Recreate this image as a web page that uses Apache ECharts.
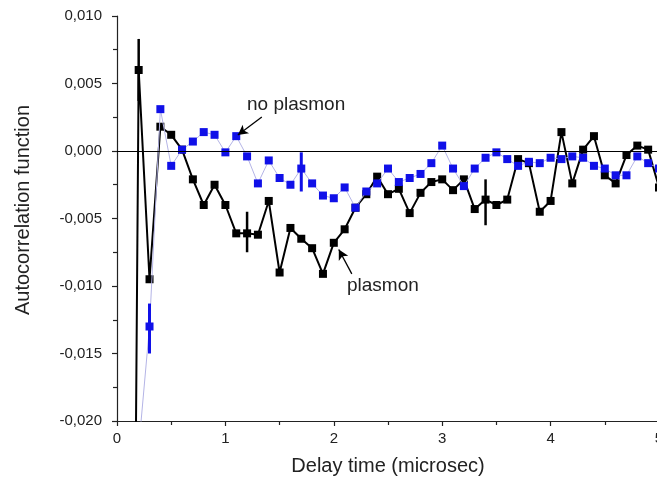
<!DOCTYPE html>
<html>
<head>
<meta charset="utf-8">
<style>
html,body{margin:0;padding:0;background:#fff;}
#chart{width:657px;height:486px;}
</style>
<script src="https://cdn.jsdelivr.net/npm/echarts@6/dist/echarts.min.js"></script>
</head>
<body>
<div id="chart"></div>
<script>
// Delay times (microsec)
const plasmonTimes = [0.1,0.2,0.3,0.4,0.5,0.6,0.7,0.8,0.9,1.0,1.1,1.2,1.3,1.4,1.5,1.6,1.7,1.8,1.9,2.0,2.1,2.2,2.3,2.4,2.5,2.6,2.7,2.8,2.9,3.0,3.1,3.2,3.3,3.4,3.5,3.6,3.7,3.8,3.9,4.0,4.1,4.2,4.3,4.4,4.5,4.6,4.7,4.8,4.9,5.0];
const plasmonValues = [-0.1,0.0060,-0.0095,0.0018,0.0012,0.0001,-0.0021,-0.0040,-0.0025,-0.0040,-0.0061,-0.0061,-0.0062,-0.0037,-0.0090,-0.0057,-0.0065,-0.0072,-0.0091,-0.0068,-0.0058,-0.0042,-0.0032,-0.0019,-0.0032,-0.0028,-0.0046,-0.0031,-0.0023,-0.0021,-0.0029,-0.0021,-0.0043,-0.0036,-0.0040,-0.0036,-0.0006,-0.0009,-0.0045,-0.0037,0.0014,-0.0024,0.0001,0.0011,-0.0018,-0.0024,-0.0003,0.0004,0.0001,-0.0027];

const noPlasmonTimes = [0.2,0.3,0.4,0.5,0.6,0.7,0.8,0.9,1.0,1.1,1.2,1.3,1.4,1.5,1.6,1.7,1.8,1.9,2.0,2.1,2.2,2.3,2.4,2.5,2.6,2.7,2.8,2.9,3.0,3.1,3.2,3.3,3.4,3.5,3.6,3.7,3.8,3.9,4.0,4.1,4.2,4.3,4.4,4.5,4.6,4.7,4.8,4.9,5.0];
const noPlasmonValues = [-0.0220,-0.0130,0.0031,-0.0011,0.0001,0.0007,0.0014,0.0012,-0.0001,0.0011,-0.0004,-0.0024,-0.0007,-0.0020,-0.0025,-0.0013,-0.0024,-0.0033,-0.0035,-0.0027,-0.0042,-0.0030,-0.0024,-0.0013,-0.0023,-0.0020,-0.0017,-0.0009,0.0004,-0.0013,-0.0026,-0.0013,-0.0005,-0.0001,-0.0006,-0.0011,-0.0008,-0.0009,-0.0005,-0.0006,-0.0004,-0.0005,-0.0011,-0.0013,-0.0018,-0.0018,-0.0004,-0.0009,-0.0013];

// Error bars: [time, low, high]
const plasmonErrors = [[0.2,0.0037,0.0083],[1.2,-0.0075,-0.0045],[3.4,-0.0055,-0.0021]];
const noPlasmonErrors = [[0.3,-0.0150,-0.0113],[1.7,-0.0030,-0.0001]];

// Axis ticks
const xTicks = [0,1,2,3,4,5];
const yTicks = [-0.020,-0.015,-0.010,-0.005,0.000,0.005,0.010];

// Annotation arrows (data coords): [tail, head]
const noPlasmonArrow = [[1.336,0.00252],[1.115,0.00119]];
const plasmonArrow = [[2.166,-0.0091],[2.046,-0.0073]];

const zip = (a,b) => a.map((v,i)=>[v,b[i]]);

function errRender(color, width){
  return function(params, api){
    const p1 = api.coord([api.value(0), api.value(1)]);
    const p2 = api.coord([api.value(0), api.value(2)]);
    return {type:'line', shape:{x1:p1[0],y1:p1[1],x2:p2[0],y2:p2[1]}, style:{stroke:color, lineWidth:width}};
  };
}

const font = 'Liberation Sans, Arial, sans-serif';
const chart = echarts.init(document.getElementById('chart'));
chart.setOption({
  animation:false,
  backgroundColor:'#fff',
  grid:{left:117, right:-2, top:16, bottom:65, containLabel:false, outerBoundsMode:'none'},
  xAxis:{
    type:'value', min:xTicks[0], max:xTicks[xTicks.length-1], interval:1,
    name:'Delay time (microsec)', nameLocation:'middle', nameGap:35,
    nameTextStyle:{fontFamily:font, fontSize:20, color:'#222'},
    axisLine:{onZero:false, lineStyle:{color:'#222', width:1.2}},
    axisTick:{show:true, length:5, lineStyle:{color:'#222', width:1.2}},
    minorTick:{show:true, splitNumber:2, length:4, lineStyle:{color:'#222', width:1.2}},
    splitLine:{show:false},
    axisLabel:{fontFamily:font, fontSize:15, color:'#222', margin:10}
  },
  yAxis:{
    type:'value', min:yTicks[0], max:yTicks[yTicks.length-1], interval:0.005,
    axisLine:{show:true, lineStyle:{color:'#222', width:1.2}},
    axisTick:{show:true, length:5, lineStyle:{color:'#222', width:1.2}},
    minorTick:{show:true, splitNumber:2, length:4, lineStyle:{color:'#222', width:1.2}},
    splitLine:{show:false},
    axisLabel:{fontFamily:font, fontSize:15, color:'#222', margin:15,
      formatter:v=>v.toFixed(3).replace('.',',')}
  },
  graphic:[
    {type:'text', x:23, y:210, rotation:Math.PI/2,
      style:{text:'Autocorrelation function', font:'20px '+font, fill:'#222', align:'center', verticalAlign:'middle'}},
    {type:'text', left:247, top:95, style:{text:'no plasmon', font:'19px '+font, fill:'#222'}},
    {type:'text', left:347, top:276, style:{text:'plasmon', font:'19px '+font, fill:'#222'}}
  ],
  series:[
    {
      type:'line', name:'plasmon', data:zip(plasmonTimes, plasmonValues),
      symbol:'rect', symbolSize:8, showAllSymbol:true,
      lineStyle:{color:'#000', width:2}, itemStyle:{color:'#000'},
      clip:true, z:2,
      markLine:{silent:true, symbol:'none', label:{show:false},
        lineStyle:{color:'#000', width:1.2, type:'solid'},
        data:[{yAxis:0}]}
    },
    {
      type:'custom', coordinateSystem:'cartesian2d', data:plasmonErrors,
      renderItem:errRender('#000', 2.5), z:3, clip:true
    },
    {
      type:'line', name:'no plasmon', data:zip(noPlasmonTimes, noPlasmonValues),
      symbol:'rect', symbolSize:8, showAllSymbol:true,
      lineStyle:{color:'#b4b4e6', width:1}, itemStyle:{color:'#1010e8'},
      clip:true, z:4,
      markLine:{silent:true, symbol:['none','arrow'], symbolSize:[8,10], label:{show:false},
        lineStyle:{color:'#000', width:1.3, type:'solid'},
        data:[
          [{coord:noPlasmonArrow[0]},{coord:noPlasmonArrow[1]}],
          [{coord:plasmonArrow[0]},{coord:plasmonArrow[1]}]
        ]}
    },
    {
      type:'custom', coordinateSystem:'cartesian2d', data:noPlasmonErrors,
      renderItem:errRender('#1010e8', 3), z:5, clip:true
    }
  ]
});
</script>
</body>
</html>
